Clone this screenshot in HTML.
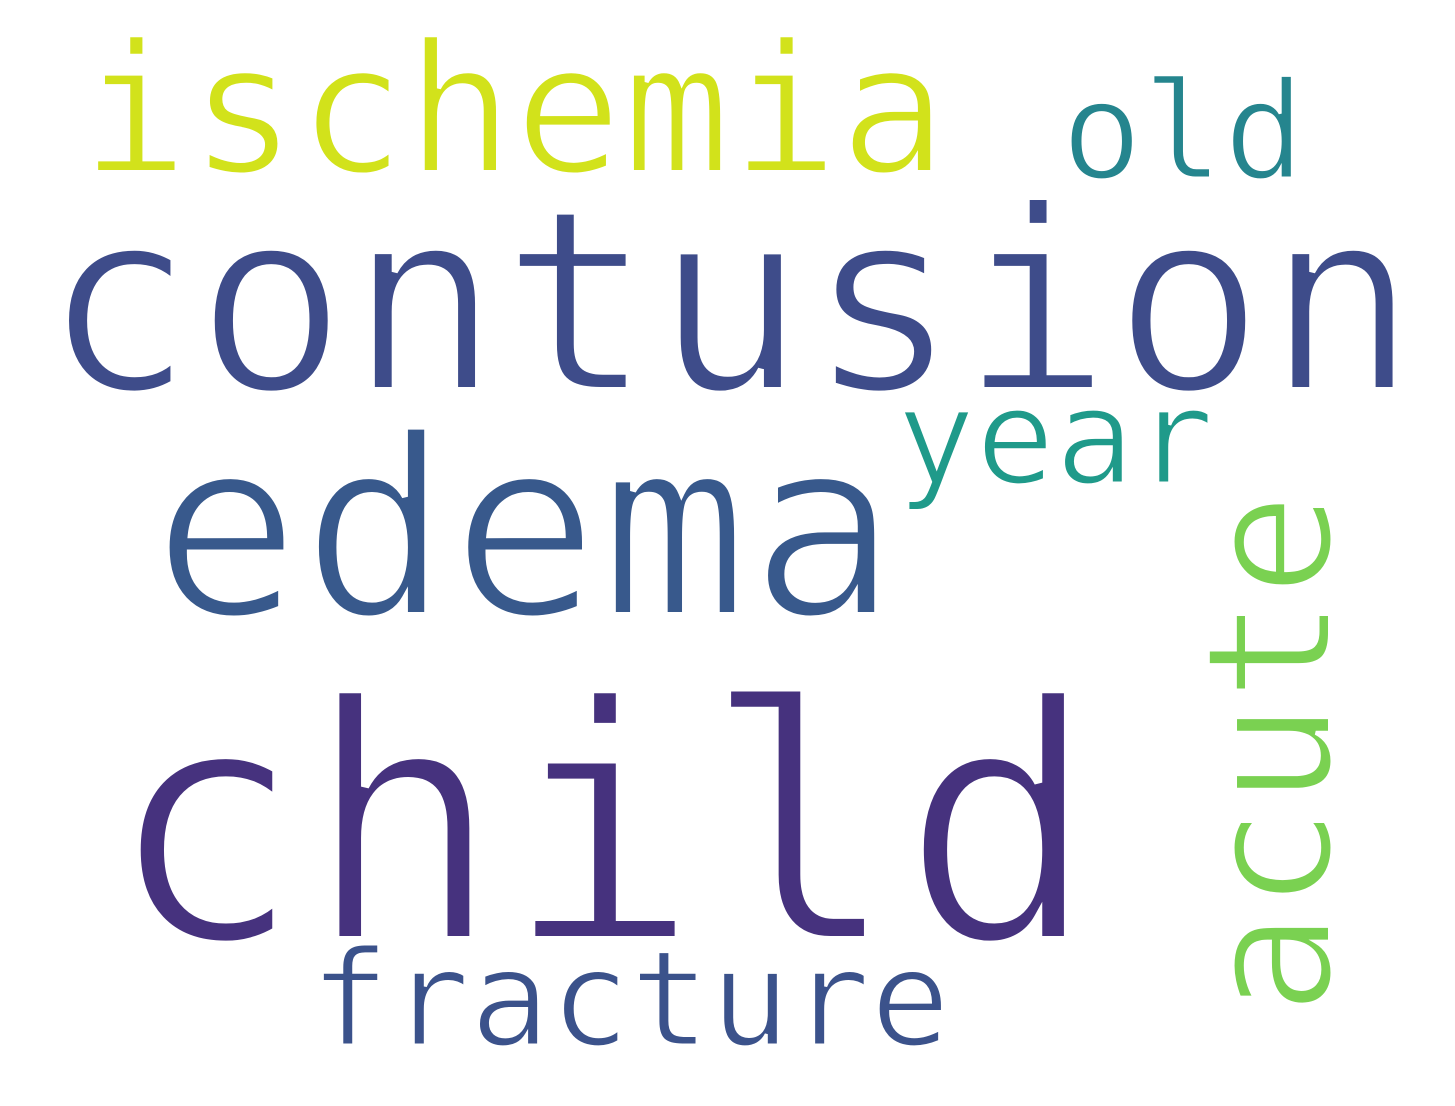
<!DOCTYPE html>
<html><head><meta charset="utf-8"><style>
html,body{margin:0;padding:0;background:#fff;}
svg{display:block;}
text{font-family:"DejaVu Sans Mono","Liberation Mono",monospace;stroke:#fff;paint-order:normal;}
</style></head><body>
<svg width="1455" height="1106" viewBox="0 0 1455 1106" xmlns="http://www.w3.org/2000/svg">
<rect width="1455" height="1106" fill="#fff"/>
<text x="514" y="172" font-size="180" stroke-width="4" text-anchor="middle" fill="#d2e21b">ischemia</text>
<text x="1183" y="178" font-size="135" stroke-width="3" text-anchor="middle" fill="#25858e">old</text>
<text x="730" y="390" font-size="254" stroke-width="6" text-anchor="middle" fill="#3e4c8a">contusion</text>
<text x="1055" y="483" font-size="132" stroke-width="3" text-anchor="middle" fill="#1f9a8a">year</text>
<text x="525" y="615" font-size="248" stroke-width="6" text-anchor="middle" fill="#38598c">edema</text>
<text x="0" y="0" font-size="174" stroke-width="4" text-anchor="middle" fill="#7ad151" transform="translate(1330 754) rotate(-90)">acute</text>
<text x="602" y="940" font-size="330" stroke-width="8" text-anchor="middle" fill="#46327e">child</text>
<text x="630" y="1045" font-size="133" stroke-width="3" text-anchor="middle" fill="#3b528b">fracture</text>
</svg>
</body></html>
